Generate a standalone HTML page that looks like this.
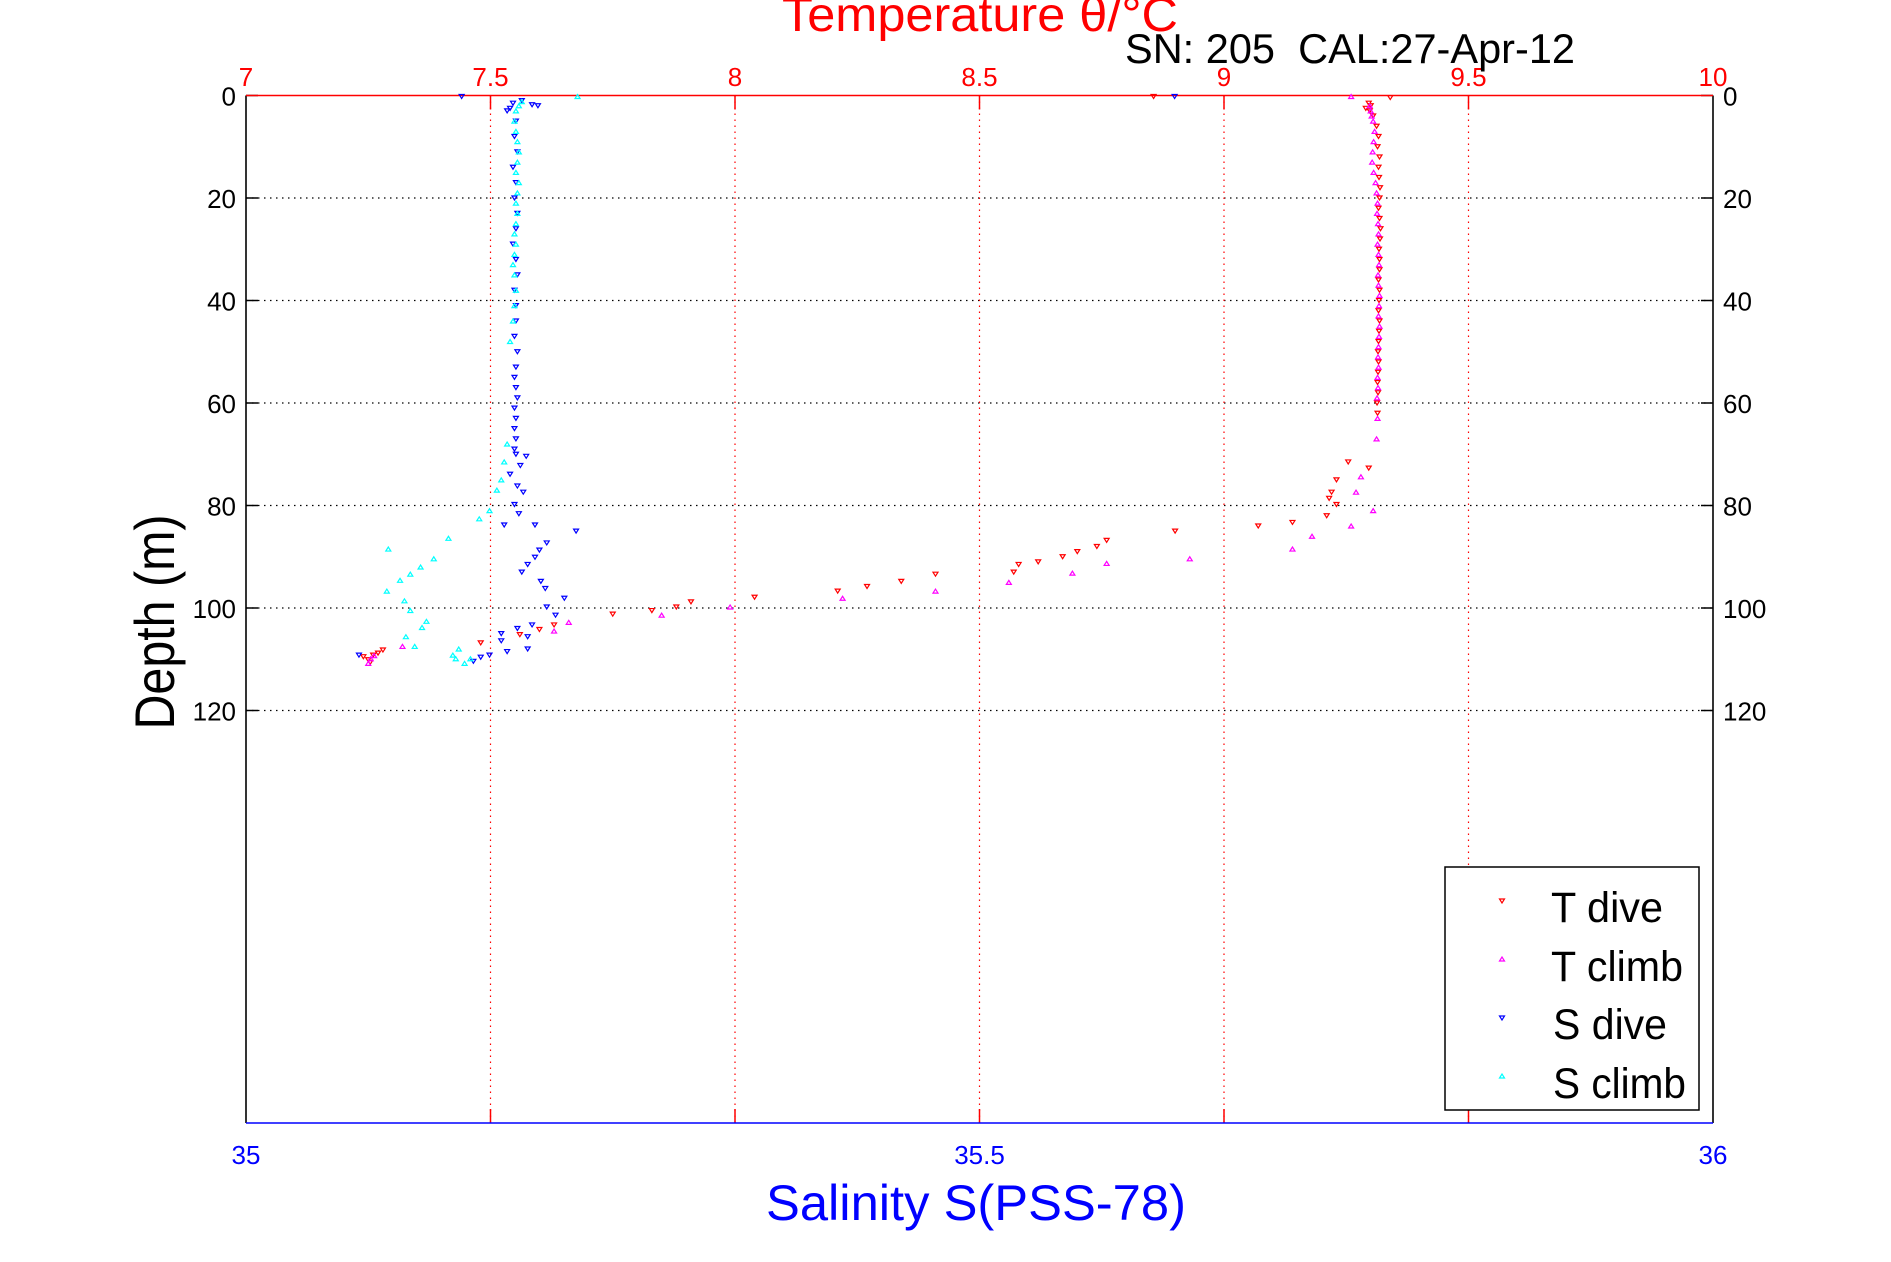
<!DOCTYPE html>
<html><head><meta charset="utf-8"><style>
html,body{margin:0;padding:0;background:#fff;}
svg{display:block;font-family:"Liberation Sans",sans-serif;}
</style></head><body>
<svg id="chart" width="1891" height="1262" viewBox="0 0 1891 1262" xmlns="http://www.w3.org/2000/svg">
<rect width="1891" height="1262" fill="#fff"/>
<g id="grid"></g>
<g id="axes"></g>
<g id="marks"></g>
<text x="980" y="31" font-size="48" fill="#f00" text-anchor="middle" textLength="396" lengthAdjust="spacingAndGlyphs">Temperature θ/°C</text>
<text x="1125" y="63" font-size="42" fill="#000" textLength="450" lengthAdjust="spacingAndGlyphs">SN: 205&#160;&#160;CAL:27-Apr-12</text>
<text x="766" y="1220" font-size="50" fill="#00f" textLength="420" lengthAdjust="spacingAndGlyphs">Salinity S(PSS-78)</text>
<text transform="translate(174,622) rotate(-90)" font-size="56" fill="#000" text-anchor="middle" textLength="215" lengthAdjust="spacingAndGlyphs">Depth (m)</text>
<g>
<rect x="1445" y="867" width="254" height="243" fill="#fff" stroke="#000" stroke-width="1.5"/>
<path d="M1499.5,899 L1504.5,899 L1502,903 Z" fill="none" stroke="#f00" stroke-width="1.2"/>
<path d="M1499.5,961 L1504.5,961 L1502,957 Z" fill="none" stroke="#f0f" stroke-width="1.2"/>
<path d="M1499.5,1016 L1504.5,1016 L1502,1020 Z" fill="none" stroke="#00f" stroke-width="1.2"/>
<path d="M1499.5,1078 L1504.5,1078 L1502,1074 Z" fill="none" stroke="#0ff" stroke-width="1.2"/>
<text x="1551" y="922" font-size="43" textLength="112" lengthAdjust="spacingAndGlyphs">T dive</text>
<text x="1551" y="981" font-size="43" textLength="132" lengthAdjust="spacingAndGlyphs">T climb</text>
<text x="1553" y="1039" font-size="43" textLength="114" lengthAdjust="spacingAndGlyphs">S dive</text>
<text x="1553" y="1098" font-size="43" textLength="133" lengthAdjust="spacingAndGlyphs">S climb</text>
</g>
</svg>
<script>
const tTicks=[7,7.5,8,8.5,9,9.5,10];
const tTickLabels=["7","7.5","8","8.5","9","9.5","10"];
const sTicks=[35,35.5,36];
const sTickLabels=["35","35.5","36"];
const depthTicks=[0,20,40,60,80,100,120];
const depthTickLabels=["0","20","40","60","80","100","120"];

const tDiveT=[8.856,9.34,9.296,9.30,9.29,9.298,9.305,9.312,9.316,9.314,9.318,9.316,9.317,9.319,9.318,9.316,9.318,9.32,9.319,9.317,9.318,9.318,9.316,9.318,9.317,9.316,9.318,9.317,9.316,9.315,9.316,9.315,9.314,9.315,9.313,9.314,9.296,9.254,9.23,9.22,9.215,9.23,9.21,9.14,9.07,8.9,8.76,8.74,8.70,8.67,8.62,8.58,8.57,8.41,8.34,8.27,8.21,8.04,7.91,7.88,7.83,7.75,7.63,7.60,7.56,7.48,7.28,7.26,7.25,7.24,7.254,7.27];
const tDiveD=[0.2,0.4,1.5,2,2.5,3,4,6,8,10,12,14,16,18,20,22,24,26,28,30,32,34,36,38,40,42,44,46,48,50,52,54,56,58,60,62,72.7,71.5,75,77.4,78.6,79.8,82,83.3,84,85,86.8,88,89,90,91,91.5,93,93.4,94.8,95.8,96.7,97.9,98.8,99.8,100.5,101.2,103.3,104.2,105.2,106.8,108.2,109.2,110.1,109.5,110.6,108.8];
const tClimbT=[9.26,9.298,9.30,9.302,9.305,9.308,9.306,9.304,9.303,9.306,9.31,9.312,9.314,9.313,9.315,9.316,9.314,9.316,9.317,9.315,9.316,9.318,9.317,9.316,9.318,9.317,9.316,9.315,9.316,9.314,9.315,9.313,9.314,9.312,9.28,9.27,9.305,9.26,9.18,9.14,8.93,8.76,8.69,8.56,8.41,8.22,7.99,7.85,7.66,7.63,7.32,7.255,7.25,7.262];
const tClimbD=[0.2,2,3,4,5,7,9,11,13,15,17,19,21,23,25,27,29,31,33,35,37,39,41,43,45,47,49,51,53,55,57,59,63,67,74.4,77.4,81,84,86,88.5,90.4,91.3,93.2,95,96.7,98.1,99.8,101.4,102.8,104.5,107.5,109.9,110.8,109.3];
const sDiveS=[35.147,35.633,35.182,35.188,35.199,35.195,35.180,35.178,35.184,35.183,35.185,35.182,35.184,35.183,35.185,35.184,35.182,35.184,35.185,35.183,35.184,35.184,35.183,35.185,35.184,35.183,35.184,35.185,35.183,35.184,35.183,35.184,35.183,35.184,35.191,35.187,35.18,35.185,35.189,35.183,35.186,35.176,35.197,35.225,35.205,35.2,35.197,35.192,35.188,35.201,35.204,35.217,35.205,35.211,35.195,35.185,35.174,35.192,35.174,35.192,35.178,35.166,35.16,35.155,35.077];
const sDiveD=[0.2,0.2,1.5,1,2,1.8,2.5,3,5,8,11,14,17,20,23,26,29,32,35,38,41,44,47,50,53,55,57,59,61,63,65,67,69,70,70.4,72.2,73.9,76.2,77.4,79.8,81.6,83.8,83.8,85,87.3,88.7,90.1,91.5,93,94.8,96.2,98.1,99.8,101.4,103.3,104,105,105.6,106.4,108,108.5,109.2,109.6,110.4,109.2];
const sClimbS=[35.226,35.188,35.186,35.184,35.183,35.184,35.185,35.186,35.185,35.184,35.186,35.185,35.184,35.185,35.184,35.183,35.184,35.183,35.182,35.183,35.184,35.183,35.182,35.18,35.178,35.176,35.174,35.171,35.166,35.159,35.138,35.097,35.128,35.119,35.112,35.105,35.096,35.108,35.112,35.123,35.12,35.109,35.115,35.145,35.141,35.143,35.149,35.153];
const sClimbD=[0.2,1.2,2,3,5,7,9,11,13,15,17,19,21,23,25,27,29,31,33,35,38,41,44,48,68,71.5,75,77,81,82.6,86.4,88.5,90.4,92,93.4,94.6,96.7,98.6,100.5,102.6,103.8,105.6,107.5,108,109.2,109.9,110.8,109.9];

const NS="http://www.w3.org/2000/svg";
const L=246,R=1713,T0=95.5,B=1123;
const pxPerM=(711-96)/120;
function xT(v){return L+(v-7)/3*(R-L);}
function xS(v){return L+(v-35)*(R-L);}
function yD(d){return T0+d*pxPerM;}
function mk(tag,attrs,parent){const e=document.createElementNS(NS,tag);for(const k in attrs)e.setAttribute(k,attrs[k]);parent.appendChild(e);return e;}
const grid=document.getElementById('grid'),axes=document.getElementById('axes'),marks=document.getElementById('marks');

depthTicks.forEach((d,i)=>{
  const y=yD(d);
  if(d>0){const g=mk('line',{x1:L,x2:R,y1:y,y2:y,stroke:'#000','stroke-width':1.2,'stroke-dasharray':'1.5 4.5'},grid);
  
  }
  const tl=mk('line',{x1:L,x2:L+12,y1:y,y2:y,stroke:'#000','stroke-width':1.5},axes);
  
  
  const tr=mk('line',{x1:R-12,x2:R,y1:y,y2:y,stroke:'#000','stroke-width':1.5},axes);
  
  
  const a=mk('text',{x:L-10,y:y+10,'font-size':26,'text-anchor':'end',fill:'#000'},axes);a.textContent=depthTickLabels[i];
  
  
  const b=mk('text',{x:R+10,y:y+10,'font-size':26,fill:'#000'},axes);b.textContent=depthTickLabels[i];
  
  
});
tTicks.forEach((v,i)=>{
  const x=xT(v);
  if(i>0&&i<tTicks.length-1){const g=mk('line',{x1:x,x2:x,y1:T0,y2:B,stroke:'#f00','stroke-width':1.2,'stroke-dasharray':'1.5 4.5'},grid);
  
  
  const t1=mk('line',{x1:x,x2:x,y1:T0,y2:T0+14,stroke:'#f00','stroke-width':1.5},axes);
  
  
  const t2=mk('line',{x1:x,x2:x,y1:B-14,y2:B,stroke:'#f00','stroke-width':1.5},axes);
  
  }
  const t=mk('text',{x:x,y:86,'font-size':26,'text-anchor':'middle',fill:'#f00'},axes);t.textContent=tTickLabels[i];
  
  
});
sTicks.forEach((v,i)=>{
  const x=xS(v);
  const t=mk('text',{x:x,y:1164,'font-size':26,'text-anchor':'middle',fill:'#00f'},axes);t.textContent=sTickLabels[i];
  
  
});
const fr=[['line',{x1:L,x2:L,y1:T0,y2:B,stroke:'#000'},'left-axis'],['line',{x1:R,x2:R,y1:T0,y2:B,stroke:'#000'},'right-axis'],['line',{x1:L,x2:R,y1:T0,y2:T0,stroke:'#f00'},'temperature-axis-line'],['line',{x1:L,x2:R,y1:B,y2:B,stroke:'#00f'},'salinity-axis-line']];
fr.forEach(f=>{const e=mk(f[0],Object.assign({'stroke-width':1.6},f[1]),axes);
  
  });

function tri(x,y,down,color,name){
  const d=down?`M${x-2.5},${y-2} L${x+2.5},${y-2} L${x},${y+2} Z`:`M${x-2.5},${y+2} L${x+2.5},${y+2} L${x},${y-2} Z`;
  const p=mk('path',{d:d,fill:'none',stroke:color,'stroke-width':1.2},marks);
  
  
}
tDiveT.forEach((v,i)=>tri(xT(v),yD(tDiveD[i]),true,'#f00','t-dive-point'));
tClimbT.forEach((v,i)=>tri(xT(v),yD(tClimbD[i]),false,'#f0f','t-climb-point'));
sDiveS.forEach((v,i)=>tri(xS(v),yD(sDiveD[i]),true,'#00f','s-dive-point'));
sClimbS.forEach((v,i)=>tri(xS(v),yD(sClimbD[i]),false,'#0ff','s-climb-point'));
</script>
</body></html>
